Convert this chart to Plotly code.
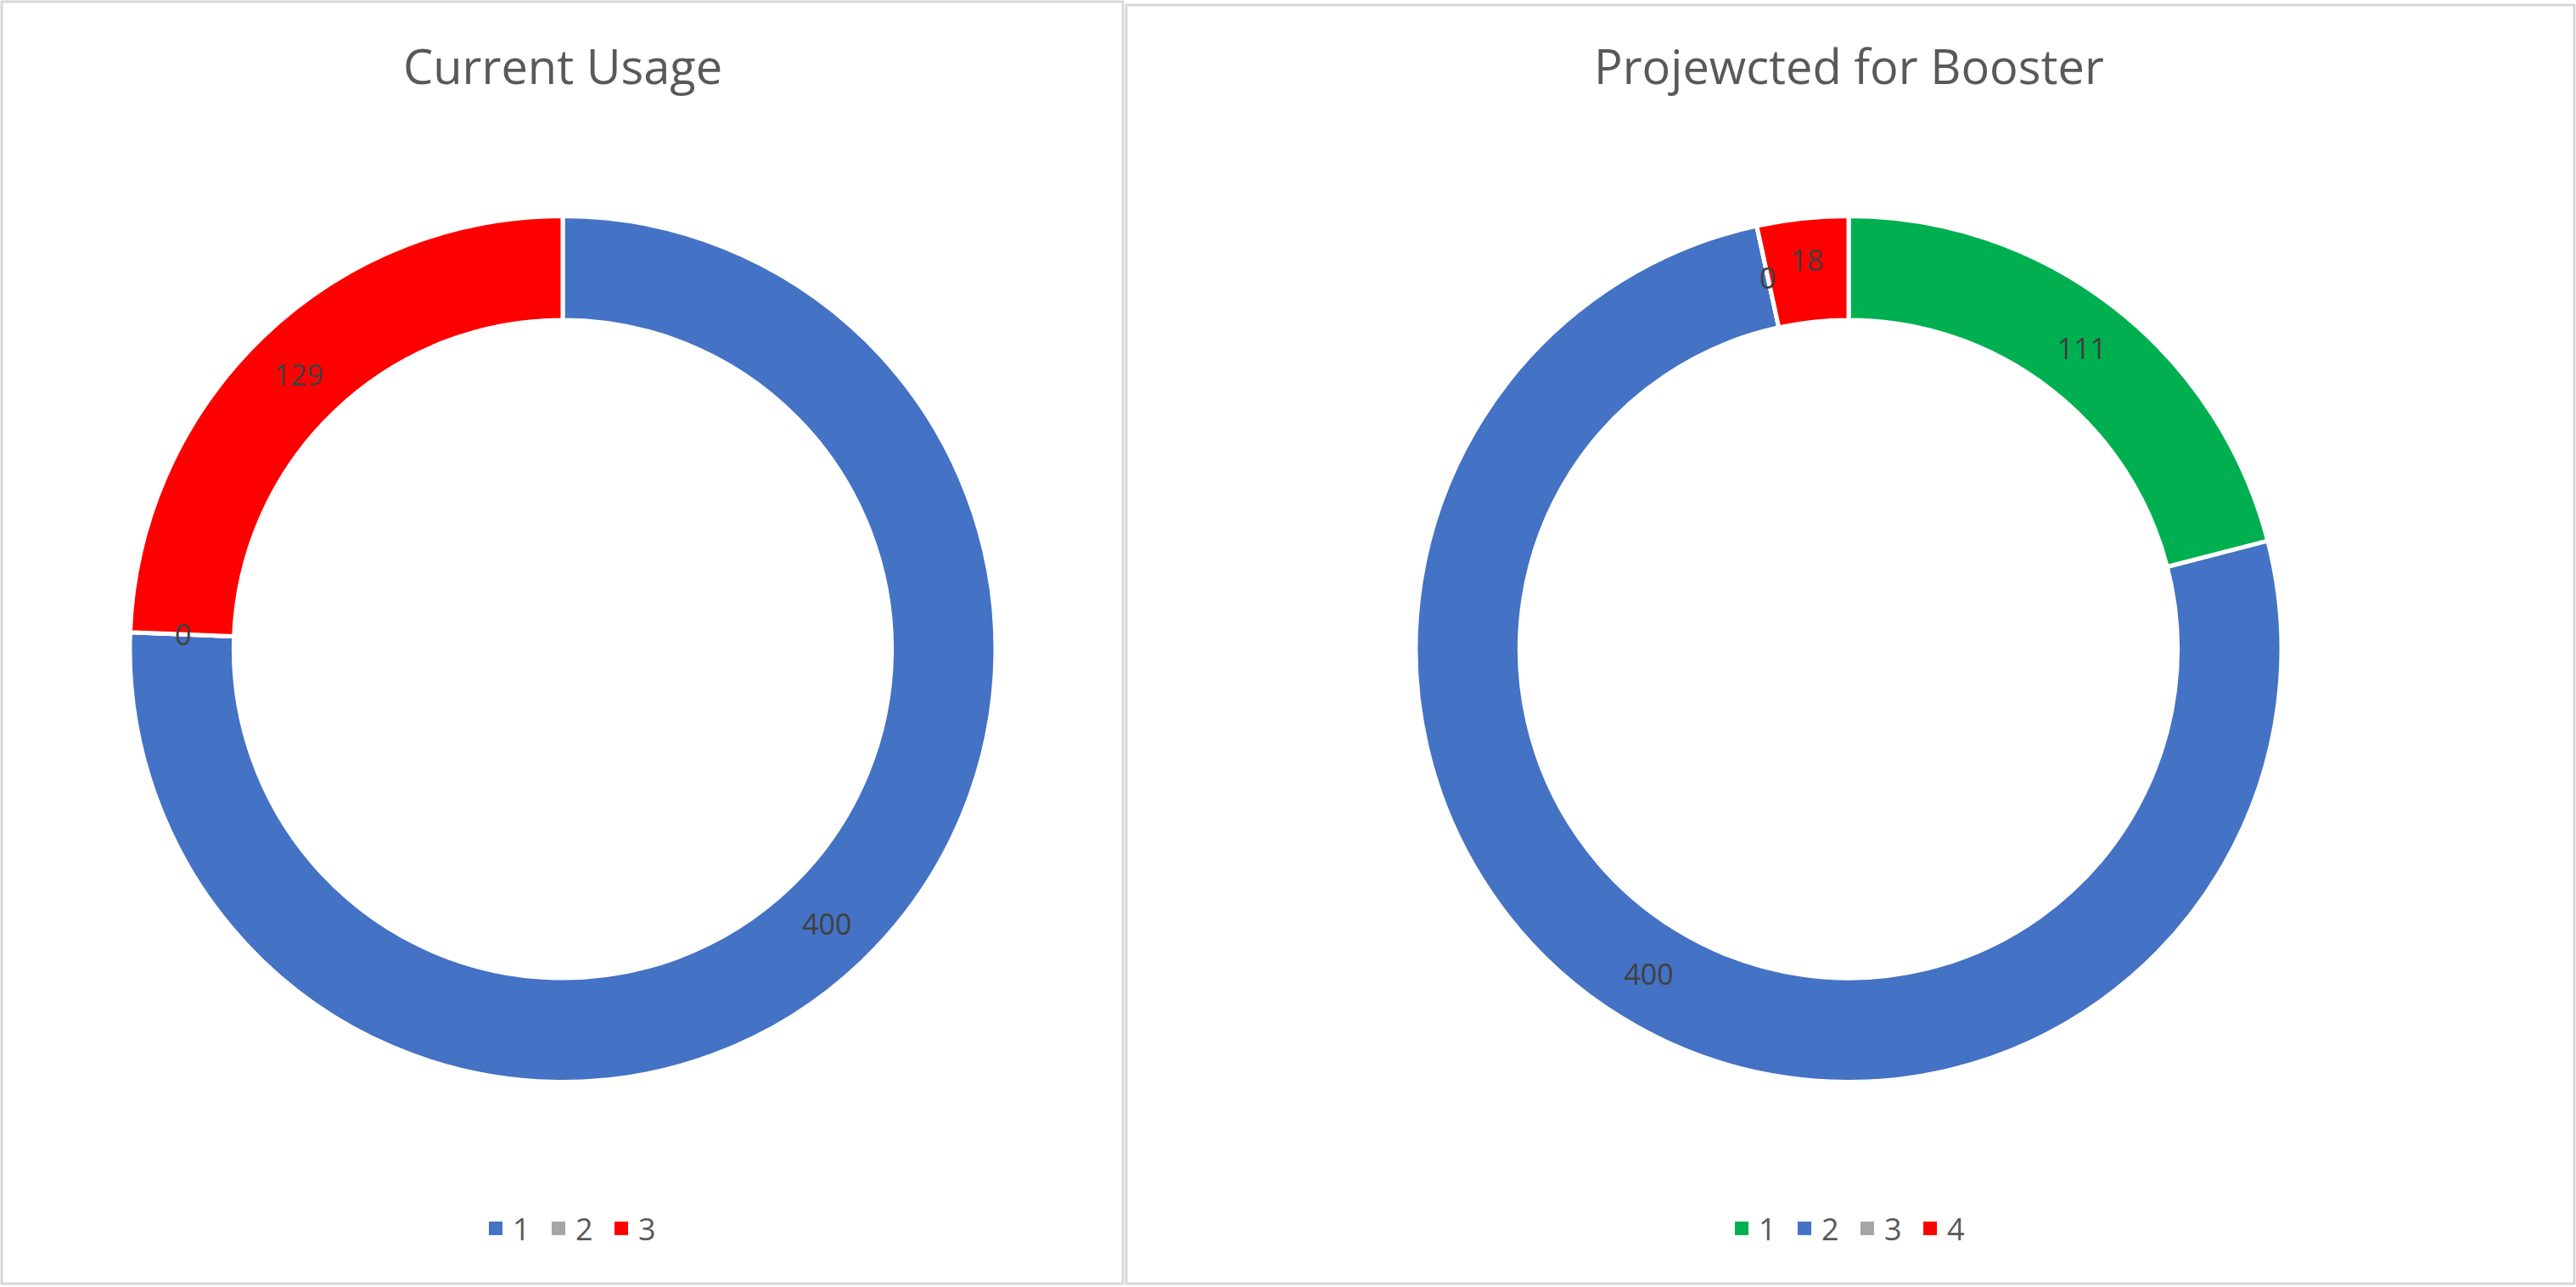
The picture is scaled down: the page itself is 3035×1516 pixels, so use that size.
import math
import plotly.graph_objects as go

# Chart data
current_labels = ["1", "2", "3"]
current_values = [400, 0, 129]
current_colors = ["#4472C4", "#A5A5A5", "#FF0000"]

booster_labels = ["1", "2", "3", "4"]
booster_values = [111, 400, 0, 18]
booster_colors = ["#00B050", "#4472C4", "#A5A5A5", "#FF0000"]

titles = ["Current Usage", "Projewcted for Booster"]

W, H = 3035, 1516
FONT = "Open Sans"
CY = 764.5          # donut centre (px from top)
R_OUT = 510
R_MID = 448         # where the value labels sit
CENTERS = [663, 2178]


def px(x):
    return x / W


def py(y):
    return 1 - y / H


def zero_labels(values, cx):
    # plotly draws no slice (and no text) for a zero value, so put its
    # "0" on the ring where the slice would have been
    out = []
    total = sum(values)
    start = 0
    for v in values:
        if v == 0:
            a = math.radians(start / total * 360)
            out.append(dict(
                text="0", x=px(cx + R_MID * math.sin(a)), y=py(CY - R_MID * math.cos(a)),
                xref="paper", yref="paper", showarrow=False,
                xanchor="center", yanchor="middle",
                font=dict(family=FONT, size=34, color="#404040")))
        start += v
    return out


fig = go.Figure()

pies = [
    (current_labels, current_values, current_colors, "legend"),
    (booster_labels, booster_values, booster_colors, "legend2"),
]

for (labels, values, colors, leg), cx in zip(pies, CENTERS):
    fig.add_trace(go.Pie(
        labels=labels,
        values=values,
        marker=dict(colors=colors, line=dict(color="white", width=5)),
        hole=0.76,
        sort=False,
        direction="clockwise",
        rotation=0,
        textinfo="value",
        textposition="inside",
        insidetextorientation="horizontal",
        textfont=dict(family=FONT, size=34, color="#404040"),
        domain=dict(x=[px(cx - R_OUT), px(cx + R_OUT)], y=[py(CY + R_OUT), py(CY - R_OUT)]),
        showlegend=False,
        hoverinfo="label+value",
    ))
    # legend entries with Excel-sized square swatches
    for lab, col in zip(labels, colors):
        fig.add_trace(go.Scatter(
            x=[None], y=[None], mode="markers", name=lab,
            marker=dict(symbol="square", size=16, color=col),
            legend=leg, showlegend=True,
        ))

legend_style = dict(
    orientation="h",
    xanchor="center",
    yanchor="middle",
    y=py(1447),
    font=dict(family=FONT, size=36, color="#595959"),
    bgcolor="rgba(0,0,0,0)",
    entrywidth=29,
    entrywidthmode="pixels",
)

annotations = [
    dict(text=t, x=px(cx), y=py(77), xref="paper", yref="paper",
         xanchor="center", yanchor="middle", showarrow=False,
         font=dict(family=FONT, size=56, color="#595959"))
    for t, cx in zip(titles, CENTERS)
]
annotations += zero_labels(current_values, CENTERS[0])
annotations += zero_labels(booster_values, CENTERS[1])

fig.update_layout(
    width=W,
    height=H,
    margin=dict(l=0, r=0, t=0, b=0),
    paper_bgcolor="white",
    plot_bgcolor="white",
    xaxis=dict(visible=False),
    yaxis=dict(visible=False),
    legend=dict(x=px(CENTERS[0] + 12), **legend_style),
    legend2=dict(x=px(CENTERS[1] + 2), **legend_style),
    annotations=annotations,
    shapes=[
        dict(type="rect", xref="paper", yref="paper",
             x0=px(2), x1=px(1323), y0=py(1512), y1=py(2),
             line=dict(color="#D9D9D9", width=3)),
        dict(type="rect", xref="paper", yref="paper",
             x0=px(1327), x1=px(3033), y0=py(1512), y1=py(6),
             line=dict(color="#D9D9D9", width=3)),
    ],
)

fig.write_html("out.html", config={"displayModeBar": False},
               post_script="document.body.style.margin='0';")
